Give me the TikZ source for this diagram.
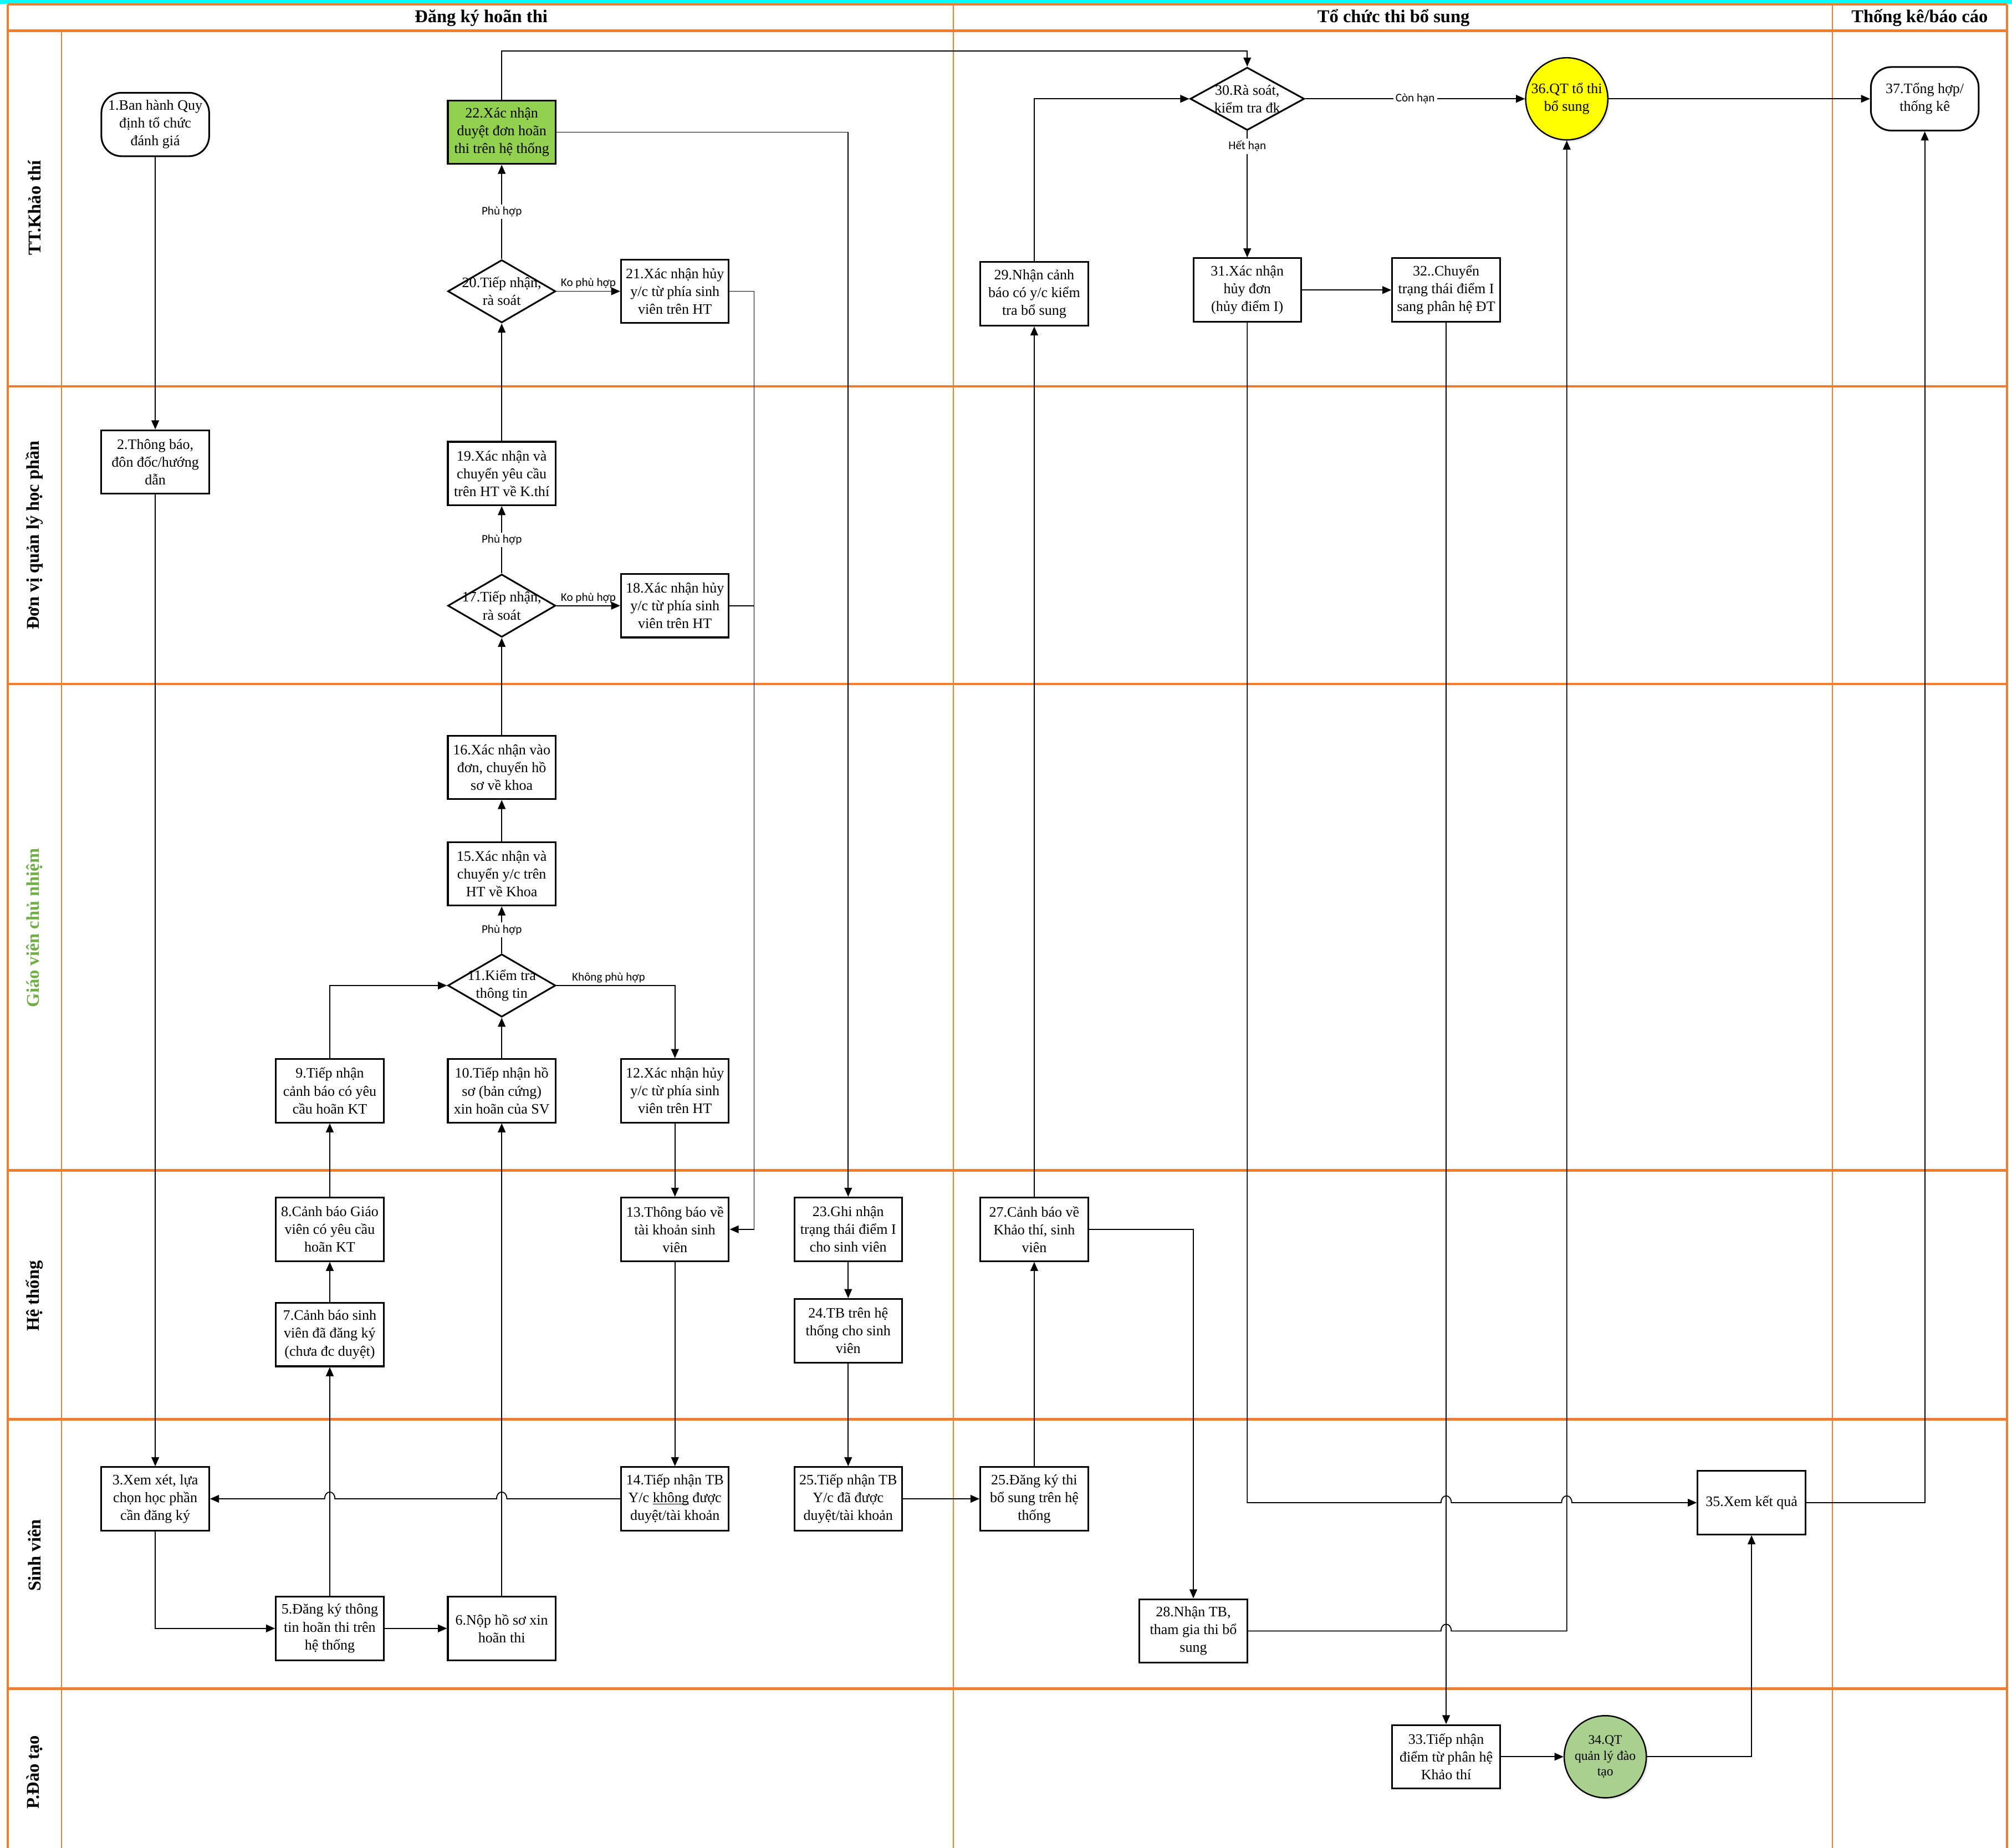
\documentclass[tikz,border=0pt]{standalone}
\usepackage{fontspec}
\setmainfont{Liberation Serif}
\newfontfamily\lblfont{Carlito}
\definecolor{laneorange}{RGB}{237,125,49}
\definecolor{topcyan}{RGB}{0,255,255}
\definecolor{okgreen}{RGB}{146,208,80}
\definecolor{qtgreen}{RGB}{169,208,142}
\definecolor{gvgreen}{RGB}{112,173,71}
\definecolor{qtyellow}{RGB}{255,255,0}
\newcommand\stepfont{\fontsize{6.4}{7.9}\selectfont}
\newcommand\smallstepfont{\fontsize{5.8}{7.0}\selectfont}
\newcommand\condfont{\lblfont\fontsize{5.2}{6}\selectfont}
\newcommand\lanefont{\bfseries\fontsize{8}{9}\selectfont}
\newcommand\ulword[1]{\setbox0\hbox{#1}\rlap{\rule[-0.9pt]{\wd0}{0.3pt}}#1}
\usepackage{tikz}
\usetikzlibrary{shapes.geometric,arrows.meta,positioning,calc,shadows}
\tikzset{
  stepbox/.style={rectangle, draw, line width=0.75pt, minimum width=1.68cm,
                  minimum height=0.99cm, inner sep=1pt, align=center, font=\stepfont},
  endbox/.style={stepbox, rounded corners=9pt},
  okbox/.style={stepbox, fill=okgreen},
  checkbox/.style={diamond, draw, line width=0.75pt, minimum width=1.68cm,
                   minimum height=0.98cm, inner sep=0pt},
  qtcircle/.style={circle, draw, line width=0.6pt, minimum size=1.28cm, inner sep=0pt,
                   align=center, drop shadow={opacity=0.2, shadow xshift=0.8pt, shadow yshift=-0.8pt}},
  flow/.style={-{Triangle[length=4pt,width=3.4pt]}, line width=0.45pt},
  plain/.style={line width=0.45pt},
  cond/.style={font=\condfont, inner sep=1pt},
  lanesep/.style={laneorange, line width=1.1pt},
  colsep/.style={laneorange, line width=0.6pt},
  lanetitle/.style={font=\lanefont, rotate=90},
  coltitle/.style={font=\lanefont},
}

\begin{document}
\begin{tikzpicture}[x=0.02cm, y=-0.02cm]
  \useasboundingbox (0,0) rectangle (1568,1440);
  % Swimlane frame
  \fill[topcyan] (0,0) rectangle (1568,3);
  \draw[lanesep] (6,3.5) -- (1564,3.5);
  \draw[lanesep] (6,3.5) -- (6,1440);
  \draw[lanesep] (1564,3.5) -- (1564,1440);
  \foreach \y in {24,301,533,912,1106,1316}{
    \draw[lanesep] (6,\y) -- (1564,\y);
  }
  \draw[colsep] (48,24) -- (48,1440);
  \foreach \x in {743,1428}{
    \draw[colsep] (\x,3.5) -- (\x,1440);
  }
  \node[coltitle] (hdrA) at (375,14) {Đăng ký hoãn thi};
  \node[coltitle] (hdrB) at (1086,14) {Tổ chức thi bổ sung};
  \node[coltitle] (hdrC) at (1496,14) {Thống kê/báo cáo};
  \foreach \y/\t/\c [count=\i] in {162/TT.Khảo thí/black, 417/Đơn vị quản lý học phần/black,
      723/Giáo viên chủ nhiệm/gvgreen, 1010/Hệ thống/black, 1212/Sinh viên/black, 1381/P.Đào tạo/black}{
    \node[lanetitle, text=\c] (lane\i) at (27,\y) {\t};
  }

  % Đăng ký hoãn thi
  \node[endbox] (n1) at (121,97) {1.Ban hành Quy\\định tổ chức\\đánh giá};
  \node[stepbox] (n2) at (121,360) {2.Thông báo,\\đôn đốc/hướng\\dẫn};
  \node[stepbox] (n3) at (121,1168) {3.Xem xét, lựa\\chọn học phần\\cần đăng ký};
  \node[stepbox] (n5) at (257,1269) {5.Đăng ký thông\\tin hoãn thi trên\\hệ thống};
  \node[stepbox] (n6) at (391,1269) {6.Nộp hồ sơ xin\\hoãn thi};
  \node[stepbox] (n7) at (257,1040) {7.Cảnh báo sinh\\viên đã đăng ký\\(chưa đc duyệt)};
  \node[stepbox] (n8) at (257,958) {8.Cảnh báo Giáo\\viên có yêu cầu\\hoãn KT};
  \node[stepbox] (n9) at (257,850) {9.Tiếp nhận\\cảnh báo có yêu\\cầu hoãn KT};
  \node[stepbox] (n10) at (391,850) {10.Tiếp nhận hồ\\sơ (bản cứng)\\xin hoãn của SV};
  \node[checkbox, label={[align=center,font=\stepfont]center:{11.Kiểm tra\\thông tin}}] (n11) at (391,768) {};
  \node[stepbox] (n12) at (526,850) {12.Xác nhận hủy\\y/c từ phía sinh\\viên trên HT};
  \node[stepbox] (n13) at (526,958) {13.Thông báo về\\tài khoản sinh\\viên};
  \node[stepbox] (n14) at (526,1168) {14.Tiếp nhận TB\\Y/c \ulword{không} được\\duyệt/tài khoản};
  \node[stepbox] (n15) at (391,681) {15.Xác nhận và\\chuyển y/c trên\\HT về Khoa};
  \node[stepbox] (n16) at (391,598) {16.Xác nhận vào\\đơn, chuyển hồ\\sơ về khoa};
  \node[checkbox, label={[align=center,font=\stepfont]center:{17.Tiếp nhận,\\rà soát}}] (n17) at (391,472) {};
  \node[stepbox] (n18) at (526,472) {18.Xác nhận hủy\\y/c từ phía sinh\\viên trên HT};
  \node[stepbox] (n19) at (391,369) {19.Xác nhận và\\chuyển yêu cầu\\trên HT về K.thí};
  \node[checkbox, label={[align=center,font=\stepfont]center:{20.Tiếp nhận,\\rà soát}}] (n20) at (391,227) {};
  \node[stepbox] (n21) at (526,227) {21.Xác nhận hủy\\y/c từ phía sinh\\viên trên HT};
  \node[okbox] (n22) at (391,103) {22.Xác nhận\\duyệt đơn hoãn\\thi trên hệ thống};
  \node[stepbox] (n23) at (661,958) {23.Ghi nhận\\trạng thái điểm I\\cho sinh viên};
  \node[stepbox] (n24) at (661,1037) {24.TB trên hệ\\thống cho sinh\\viên};
  \node[stepbox] (n25a) at (661,1168) {25.Tiếp nhận TB\\Y/c đã được\\duyệt/tài khoản};

  % Tổ chức thi bổ sung
  \node[stepbox] (n25b) at (806,1168) {25.Đăng ký thi\\bổ sung trên hệ\\thống};
  \node[stepbox] (n27) at (806,958) {27.Cảnh báo về\\Khảo thí, sinh\\viên};
  \node[stepbox] (n28) at (930,1271) {28.Nhận TB,\\tham gia thi bổ\\sung};
  \node[stepbox] (n29) at (806,229) {29.Nhận cảnh\\báo có y/c kiểm\\tra bổ sung};
  \node[checkbox, minimum width=1.78cm, label={[align=center,font=\stepfont]center:{30.Rà soát,\\kiểm tra đk}}] (n30) at (972,77) {};
  \node[stepbox] (n31) at (972,226) {31.Xác nhận\\hủy đơn\\(hủy điểm I)};
  \node[stepbox] (n32) at (1127,226) {32..Chuyển\\trạng thái điểm I\\sang phân hệ ĐT};
  \node[stepbox] (n33) at (1127,1369) {33.Tiếp nhận\\điểm từ phân hệ\\Khảo thí};
  \node[qtcircle, fill=qtgreen, font=\smallstepfont] (n34) at (1251,1369) {34.QT\\quản lý đào\\tạo};
  \node[stepbox] (n35) at (1365,1171) {35.Xem kết quả};
  \node[qtcircle, fill=qtyellow, font=\stepfont] (n36) at (1221,77) {36.QT tổ thi\\bổ sung};

  % Thống kê/báo cáo
  \node[endbox] (n37) at (1500,77) {37.Tổng hợp/\\thống kê};

  % Arrows
  \draw[flow] (n1) -- (n2);
  \draw[flow] (n2) -- (n3);
  \draw[flow] (n3.south) |- (n5.west);
  \draw[flow] (n5) -- (n6);
  \draw[flow] (n5) -- (n7);
  \draw[flow] (n7) -- (n8);
  \draw[flow] (n8) -- (n9);
  \draw[flow] (n6) -- (n10);
  \draw[flow] (n9.north) |- (n11.west);
  \draw[flow] (n10) -- (n11);
  \draw[flow] (n11.east) -| node[cond, above, pos=0.22] {Không phù hợp} (n12.north);
  \draw[flow] (n11) -- node[cond, fill=white] {Phù hợp} (n15);
  \draw[flow] (n15) -- (n16);
  \draw[flow] (n16) -- (n17);
  \draw[flow] (n17) -- node[cond, fill=white] {Phù hợp} (n19);
  \draw[flow] (n17) -- node[cond, above] {Ko phù hợp} (n18);
  \draw[flow] (n19) -- (n20);
  \draw[flow] (n20) -- node[cond, fill=white] {Phù hợp} (n22);
  \draw[flow] (n20) -- node[cond, above] {Ko phù hợp} (n21);
  \draw[flow] (n12) -- (n13);
  \draw[flow] (n21.east) -- ++(19,0) |- (n13.east);
  \draw[plain] (n18.east) -- ++(19,0);
  \draw[flow] (n13) -- (n14);
  \draw[flow] (n14.west) -- ($(n6 |- n14.west)+(4,0)$)
      .. controls +(0,-7) and +(0,-7) .. ($(n6 |- n14.west)+(-4,0)$)
      -- ($(n5 |- n14.west)+(4,0)$)
      .. controls +(0,-7) and +(0,-7) .. ($(n5 |- n14.west)+(-4,0)$) -- (n3.east);
  \draw[flow] (n22.east) -| (n23.north);
  \draw[flow] (n22.north) -- ++(0,-38) -| (n30.north);
  \draw[flow] (n23) -- (n24);
  \draw[flow] (n24) -- (n25a);
  \draw[flow] (n25a) -- (n25b);
  \draw[flow] (n25b) -- (n27);
  \draw[flow] (n27) -- (n29);
  \draw[flow] (n29.north) |- (n30.west);
  \draw[flow] (n30) -- node[cond, fill=white] {Còn hạn} (n36);
  \draw[flow] (n30) -- node[cond, fill=white, pos=0.12] {Hết hạn} (n31);
  \draw[flow] (n31) -- (n32);
  \draw[flow] (n32) -- (n33);
  \draw[flow] (n33) -- (n34);
  \draw[flow] (n34.east) -| (n35.south);
  \draw[flow] (n27.east) -| (n28.north);
  \draw[flow] (n28.east) -- ($(n32 |- n28.east)+(-4,0)$)
      .. controls +(0,-7) and +(0,-7) .. ($(n32 |- n28.east)+(4,0)$)
      -- (n36 |- n28.east) -- (n36.south);
  \draw[flow] (n31.south) -- (n31 |- n35.west) -- ($(n32 |- n35.west)+(-4,0)$)
      .. controls +(0,-7) and +(0,-7) .. ($(n32 |- n35.west)+(4,0)$)
      -- ($(n36 |- n35.west)+(-4,0)$)
      .. controls +(0,-7) and +(0,-7) .. ($(n36 |- n35.west)+(4,0)$) -- (n35.west);
  \draw[flow] (n36) -- (n37);
  \draw[flow] (n35.east) -| (n37.south);
\end{tikzpicture}
\end{document}
